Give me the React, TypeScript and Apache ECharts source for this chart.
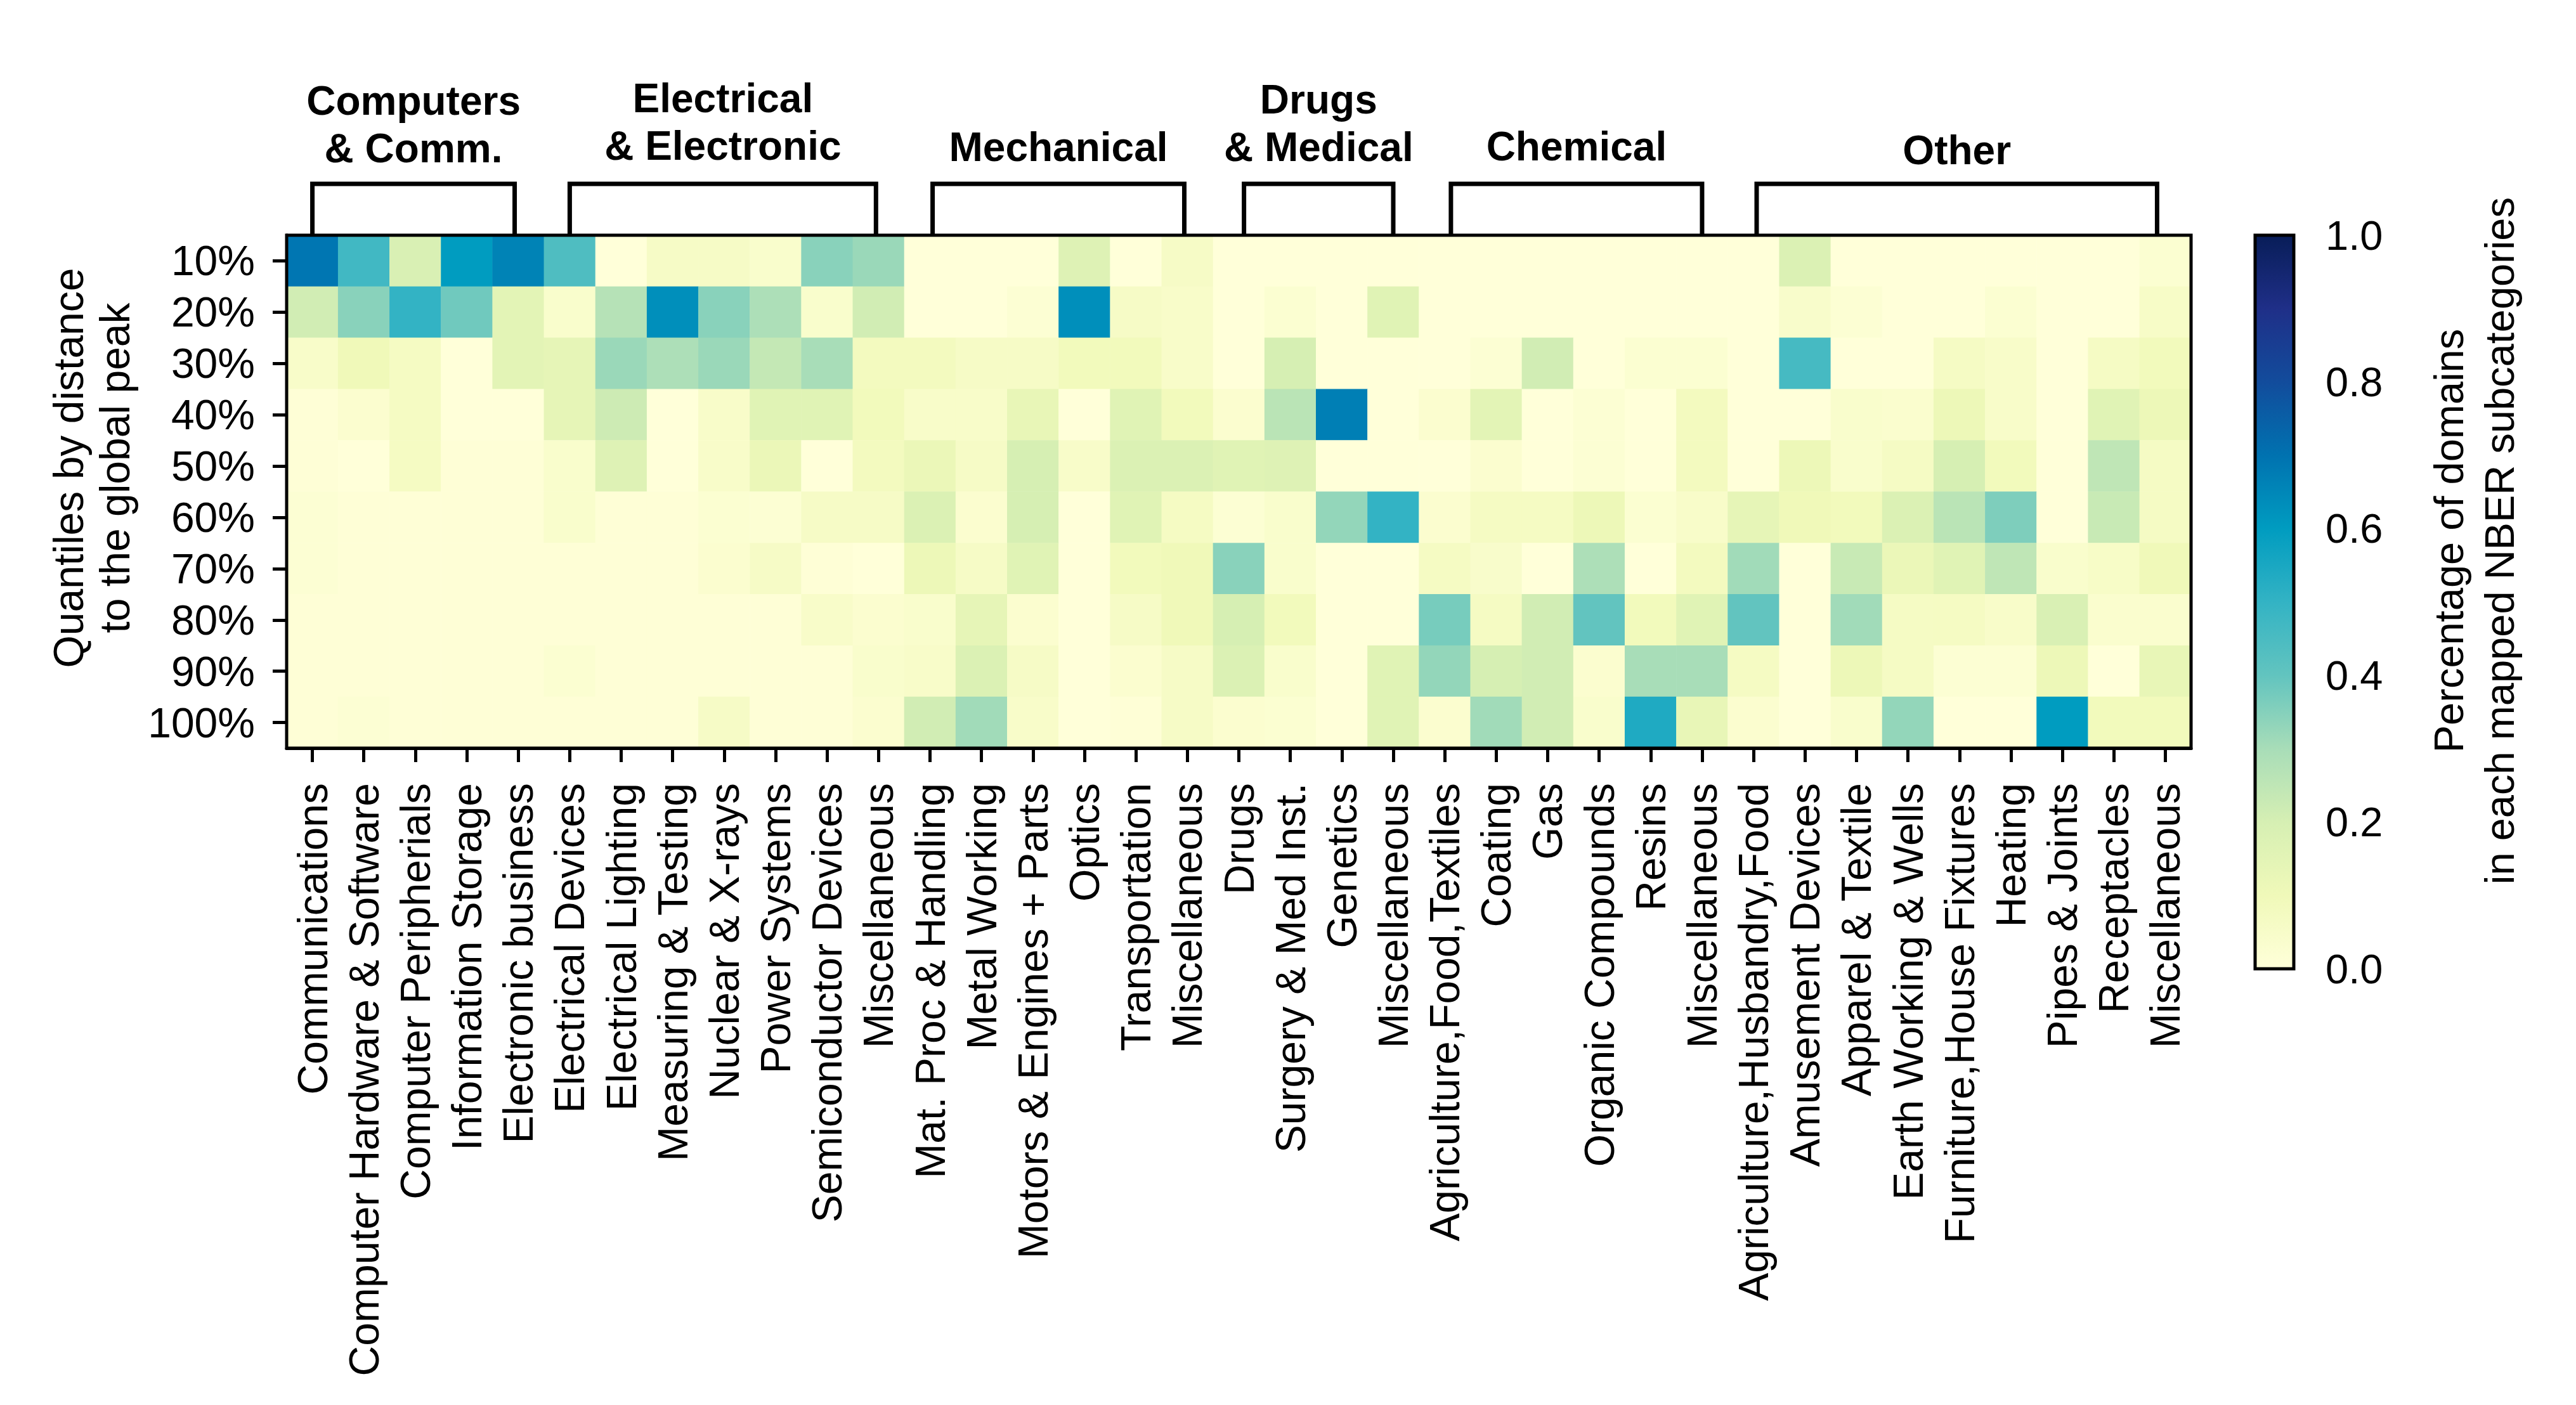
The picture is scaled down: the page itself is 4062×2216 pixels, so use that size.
import React, { useEffect, useRef } from "react";
import * as echarts from "echarts";

// ---------------- data ----------------
const categories = [
  "Communications", "Computer Hardware & Software", "Computer Peripherials", "Information Storage", "Electronic business",
  "Electrical Devices", "Electrical Lighting", "Measuring & Testing", "Nuclear & X-rays", "Power Systems", "Semiconductor Devices", "Miscellaneous",
  "Mat. Proc & Handling", "Metal Working", "Motors & Engines + Parts", "Optics", "Transportation", "Miscellaneous",
  "Drugs", "Surgery & Med Inst.", "Genetics", "Miscellaneous",
  "Agriculture,Food,Textiles", "Coating", "Gas", "Organic Compounds", "Resins", "Miscellaneous",
  "Agriculture,Husbandry,Food", "Amusement Devices", "Apparel & Textile", "Earth Working & Wells", "Furniture,House Fixtures",
  "Heating", "Pipes & Joints", "Receptacles", "Miscellaneous",
];

const quantiles = ["10%", "20%", "30%", "40%", "50%", "60%", "70%", "80%", "90%", "100%"];

const q10 = [0.69, 0.47, 0.19, 0.60, 0.66, 0.44, 0.0, 0.06, 0.06, 0.04, 0.345, 0.32, 0.0, 0.0, 0.0, 0.17, 0.0, 0.06, 0.0, 0.0, 0.0, 0.0, 0.0, 0.0, 0.0, 0.0, 0.0, 0.0, 0.0, 0.18, 0.0, 0.0, 0.0, 0.0, 0.0, 0.0, 0.025];
const q20 = [0.21, 0.345, 0.50, 0.38, 0.15, 0.04, 0.27, 0.63, 0.345, 0.29, 0.04, 0.21, 0.0, 0.0, 0.02, 0.63, 0.06, 0.05, 0.0, 0.025, 0.0, 0.16, 0.0, 0.0, 0.0, 0.0, 0.0, 0.0, 0.0, 0.045, 0.02, 0.0, 0.0, 0.025, 0.0, 0.0, 0.055];
const q30 = [0.05, 0.10, 0.07, 0.0, 0.15, 0.14, 0.32, 0.29, 0.32, 0.24, 0.30, 0.08, 0.08, 0.06, 0.06, 0.09, 0.09, 0.05, 0.0, 0.20, 0.0, 0.0, 0.0, 0.02, 0.21, 0.0, 0.025, 0.025, 0.0, 0.46, 0.0, 0.0, 0.065, 0.05, 0.0, 0.065, 0.09];
const q40 = [0.01, 0.03, 0.07, 0.0, 0.0, 0.14, 0.22, 0.0, 0.05, 0.16, 0.16, 0.09, 0.05, 0.05, 0.13, 0.0, 0.16, 0.09, 0.03, 0.26, 0.67, 0.0, 0.03, 0.15, 0.0, 0.02, 0.0, 0.08, 0.0, 0.0, 0.04, 0.035, 0.11, 0.05, 0.0, 0.16, 0.11];
const q50 = [0.01, 0.0, 0.07, 0.01, 0.01, 0.04, 0.17, 0.0, 0.05, 0.12, 0.0, 0.08, 0.12, 0.06, 0.20, 0.05, 0.18, 0.18, 0.16, 0.17, 0.0, 0.0, 0.0, 0.03, 0.0, 0.02, 0.0, 0.08, 0.0, 0.11, 0.04, 0.065, 0.20, 0.09, 0.0, 0.25, 0.065];
const q60 = [0.02, 0.01, 0.01, 0.01, 0.01, 0.04, 0.01, 0.01, 0.025, 0.02, 0.06, 0.06, 0.18, 0.03, 0.20, 0.0, 0.16, 0.07, 0.02, 0.04, 0.33, 0.50, 0.03, 0.07, 0.07, 0.11, 0.025, 0.05, 0.14, 0.10, 0.09, 0.18, 0.26, 0.36, 0.0, 0.23, 0.065];
const q70 = [0.02, 0.01, 0.01, 0.01, 0.01, 0.01, 0.01, 0.01, 0.03, 0.06, 0.01, 0.0, 0.11, 0.06, 0.16, 0.0, 0.09, 0.10, 0.345, 0.04, 0.0, 0.0, 0.07, 0.045, 0.0, 0.29, 0.0, 0.08, 0.31, 0.0, 0.23, 0.12, 0.16, 0.25, 0.04, 0.055, 0.10];
const q80 = [0.01, 0.01, 0.01, 0.01, 0.01, 0.01, 0.01, 0.01, 0.01, 0.01, 0.05, 0.03, 0.04, 0.14, 0.03, 0.0, 0.06, 0.10, 0.20, 0.09, 0.0, 0.0, 0.37, 0.07, 0.21, 0.40, 0.09, 0.16, 0.40, 0.0, 0.31, 0.065, 0.07, 0.05, 0.19, 0.035, 0.035];
const q90 = [0.01, 0.01, 0.01, 0.01, 0.01, 0.025, 0.01, 0.01, 0.01, 0.01, 0.01, 0.04, 0.05, 0.18, 0.06, 0.0, 0.03, 0.06, 0.18, 0.04, 0.0, 0.16, 0.33, 0.20, 0.21, 0.03, 0.30, 0.30, 0.07, 0.0, 0.11, 0.065, 0.02, 0.02, 0.11, 0.0, 0.13];
const q100 = [0.01, 0.02, 0.01, 0.01, 0.01, 0.01, 0.01, 0.01, 0.06, 0.01, 0.01, 0.03, 0.21, 0.31, 0.05, 0.0, 0.01, 0.06, 0.03, 0.025, 0.0, 0.16, 0.03, 0.31, 0.21, 0.04, 0.54, 0.13, 0.03, 0.0, 0.04, 0.33, 0.0, 0.0, 0.60, 0.09, 0.09];

const rows = [q10, q20, q30, q40, q50, q60, q70, q80, q90, q100];

const groupLabels = ["Computers\n& Comm.", "Electrical\n& Electronic", "Mechanical", "Drugs\n& Medical", "Chemical", "Other"];
const groupFirst = [0, 5, 12, 18, 22, 28];
const groupLast = [4, 11, 17, 21, 27, 36];

const colorTicks = [0, 0.2, 0.4, 0.6, 0.8, 1.0];

// ---------------- style / layout ----------------
// YlGnBu as it appears in the reference colour bar (stops at 0, 0.1, ..., 1)
const CMAP = ["#ffffd9", "#f0f9b9", "#d6efb3", "#a8ddb8", "#62c4bf", "#33b3c4", "#009cc0", "#0072b0", "#124c9c", "#1f2f88", "#081d58"];
const FONT = "Liberation Sans, Arial, Helvetica, sans-serif";
const FS = 66;
const FS_GROUP = 64;
const GRID = { left: 452, top: 371, width: 3003, height: 809 };
const CB = { left: 3556, top: 371, width: 61, height: 1157 };
const BRACKET_Y = 290;
const GROUP_LABEL_Y = [196, 192, 232, 194, 231, 237];
// inset of each bracket end from the column centre, in column widths
const BRACKET_INSET_L = [0.0, 0.0, 0.05, 0.1, 0.12, 0.06];
const BRACKET_INSET_R = [0.07, 0.05, 0.06, 0.0, 0.0, 0.16];

export default function App() {
  const ref = useRef<HTMLDivElement>(null);

  useEffect(() => {
    if (!ref.current) return;
    const chart = echarts.init(ref.current, undefined, { renderer: "svg" });

    const heatData: number[][] = [];
    rows.forEach((row, r) => row.forEach((v, c) => heatData.push([c, r, v])));

    const stops = CMAP.map((color, i) => ({ offset: i / (CMAP.length - 1), color }));

    chart.setOption({
      animation: false,
      backgroundColor: "#ffffff",
      textStyle: { fontFamily: FONT, color: "#000" },
      grid: [
        { left: GRID.left, top: GRID.top, width: GRID.width, height: GRID.height, containLabel: false },
        { left: CB.left, top: CB.top, width: CB.width, height: CB.height, containLabel: false },
      ],
      xAxis: [
        {
          type: "category",
          gridIndex: 0,
          data: categories,
          axisLine: { show: true, lineStyle: { color: "#000", width: 5 } },
          axisTick: { show: true, alignWithLabel: true, interval: 0, length: 22, lineStyle: { color: "#000", width: 5 } },
          axisLabel: { interval: 0, rotate: 90, fontSize: FS, margin: 55, color: "#000", fontFamily: FONT },
          splitLine: { show: false },
          splitArea: { show: false },
        },
        { type: "value", gridIndex: 1, min: 0, max: 1, show: false },
      ],
      yAxis: [
        {
          type: "category",
          gridIndex: 0,
          data: quantiles,
          inverse: true,
          axisLine: { show: true, lineStyle: { color: "#000", width: 5 } },
          axisTick: { show: true, alignWithLabel: true, interval: 0, length: 22, lineStyle: { color: "#000", width: 5 } },
          axisLabel: { interval: 0, fontSize: FS, margin: 50, color: "#000", fontFamily: FONT },
          splitLine: { show: false },
          splitArea: { show: false },
        },
        {
          type: "value",
          gridIndex: 1,
          min: 0,
          max: 1,
          interval: 0.2,
          position: "right",
          axisLine: { show: false },
          axisTick: { show: true, length: 25, lineStyle: { color: "#000", width: 4 } },
          axisLabel: { fontSize: FS_GROUP + 1, margin: 50, color: "#000", fontFamily: FONT, formatter: (v: number) => v.toFixed(1) },
          splitLine: { show: false },
        },
      ],
      visualMap: {
        type: "continuous",
        show: false,
        min: 0,
        max: 1,
        seriesIndex: 0,
        dimension: 2,
        inRange: { color: CMAP },
      },
      series: [
        {
          type: "heatmap",
          xAxisIndex: 0,
          yAxisIndex: 0,
          data: heatData,
          itemStyle: { borderWidth: 0 },
          emphasis: { disabled: true },
        },
        {
          type: "custom",
          xAxisIndex: 1,
          yAxisIndex: 1,
          data: [[0, 0]],
          renderItem: (_params: any, api: any) => {
            const p0 = api.coord([0, colorTicks[0]]);
            const p1 = api.coord([1, colorTicks[colorTicks.length - 1]]);
            return {
              type: "rect",
              shape: { x: p0[0], y: p1[1], width: p1[0] - p0[0], height: p0[1] - p1[1] },
              style: {
                fill: new echarts.graphic.LinearGradient(0, 1, 0, 0, stops),
                stroke: "#000",
                lineWidth: 5,
              },
            };
          },
        },
      ],
    });

    // brackets and group labels from the category scale
    const graphics: any[] = [];
    graphics.push({
      type: "rect",
      z: 100,
      shape: { x: GRID.left, y: GRID.top, width: GRID.width, height: GRID.height },
      style: { fill: "none", stroke: "#000", lineWidth: 5 },
    });
    const band = (chart.convertToPixel({ xAxisIndex: 0 }, 1) as number) - (chart.convertToPixel({ xAxisIndex: 0 }, 0) as number);
    groupLabels.forEach((label, g) => {
      const x1 = (chart.convertToPixel({ xAxisIndex: 0 }, groupFirst[g]) as number) + BRACKET_INSET_L[g] * band;
      const x2 = (chart.convertToPixel({ xAxisIndex: 0 }, groupLast[g]) as number) - BRACKET_INSET_R[g] * band;
      graphics.push({
        type: "polyline",
        z: 100,
        shape: { points: [[x1, GRID.top], [x1, BRACKET_Y], [x2, BRACKET_Y], [x2, GRID.top]] },
        style: { fill: "none", stroke: "#000", lineWidth: 7 },
      });
      graphics.push({
        type: "text",
        z: 100,
        x: (x1 + x2) / 2,
        y: GROUP_LABEL_Y[g],
        style: {
          text: label,
          fontSize: FS_GROUP,
          fontWeight: "bold",
          fontFamily: FONT,
          fill: "#000",
          lineHeight: 75,
          align: "center",
          verticalAlign: "middle",
          textAlign: "center",
          textVerticalAlign: "middle",
        },
      });
    });
    graphics.push({
      type: "text",
      z: 100,
      x: 144,
      y: 738,
      rotation: Math.PI / 2,
      style: {
        text: "Quantiles by distance\nto the global peak",
        fontSize: FS,
        fontFamily: FONT,
        fill: "#000",
        lineHeight: 73,
        align: "center",
        verticalAlign: "middle",
        textAlign: "center",
        textVerticalAlign: "middle",
      },
    });
    graphics.push({
      type: "text",
      z: 100,
      x: 3901,
      y: 853,
      rotation: Math.PI / 2,
      style: {
        text: "Percentage of domains\nin each mapped NBER subcategories",
        fontSize: FS_GROUP + 1,
        fontFamily: FONT,
        fill: "#000",
        lineHeight: 80,
        align: "center",
        verticalAlign: "middle",
        textAlign: "center",
        textVerticalAlign: "middle",
      },
    });
    chart.setOption({ graphic: graphics });

    return () => chart.dispose();
  }, []);

  return <div ref={ref} style={{ position: "fixed", left: 0, top: 0, width: 4062, height: 2216 }} />;
}
